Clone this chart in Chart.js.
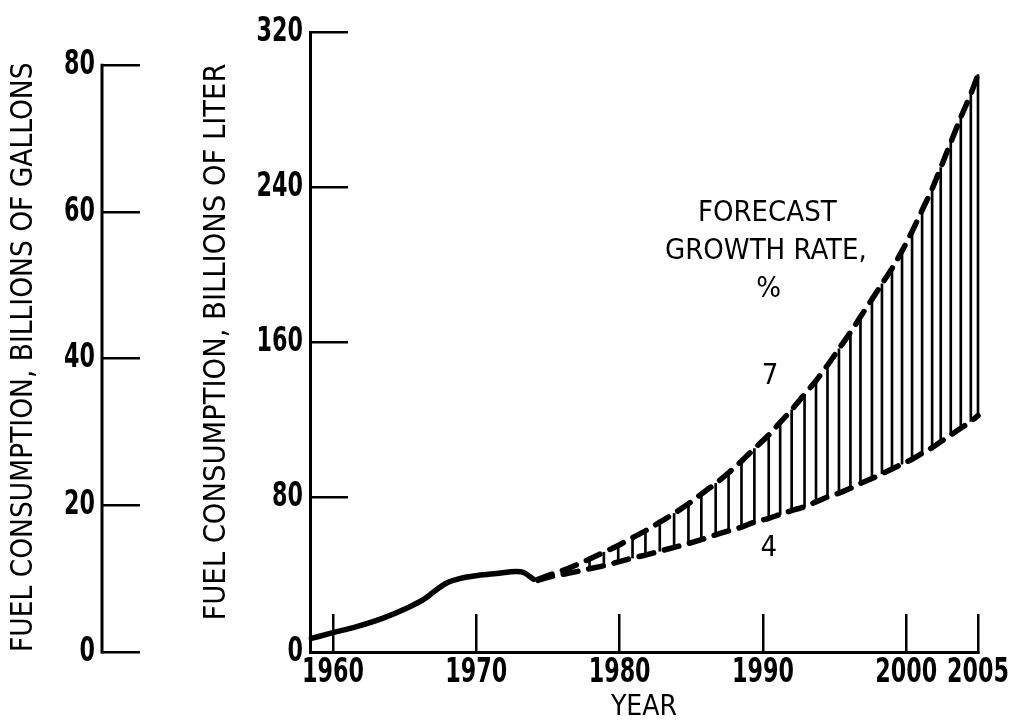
<!DOCTYPE html>
<html>
<head>
<meta charset="utf-8">
<script src="https://cdn.jsdelivr.net/npm/chart.js@4.4.1/dist/chart.umd.min.js"></script>
<style>
  html, body { margin: 0; padding: 0; background: #fff; }
  canvas { display: block; }
</style>
</head>
<body>
<canvas id="fuel" width="1012" height="726"></canvas>
<script>
// Historical fuel consumption, billions of liters
const historyYears  = [1958.5, 1960, 1961.6, 1963.5, 1965.1, 1966.3, 1967.2, 1967.9, 1968.9, 1970.1, 1971.4, 1972.8, 1973.3, 1974.0];
const historyLiters = [7, 10, 13, 17.5, 22.5, 27, 32, 35.5, 38, 39.5, 40.5, 41.5, 41, 37.5];

// Forecast band, billions of liters, sampled where the hatch lines fall
const forecastYears = [1974.3, 1975, 1976, 1977, 1977.9, 1978.9, 1979.9, 1980.9, 1981.8, 1982.8,
  1983.8, 1984.8, 1985.7, 1986.7, 1987.6, 1988.5, 1989.4, 1990.4, 1991.2, 1992.0,
  1992.9, 1993.7, 1994.5, 1995.3, 1996.1, 1996.8, 1997.6, 1998.3, 1999.0, 1999.7,
  2000.4, 2001.1, 2001.8, 2002.4, 2003.1, 2003.8, 2004.5, 2005.0];
const growth7 = [37.5, 39.5, 42, 45, 48, 51.5, 55, 59, 62.5, 67,
  71.5, 76.5, 81.5, 87, 92.5, 98.5, 105, 112, 118.5, 125,
  133, 140, 148, 156.5, 165, 173, 182, 190, 198, 207,
  217, 228, 239, 250, 263, 276, 288, 298];
const growth4 = [37, 38.5, 40, 41.5, 43, 44.5, 46.5, 48.5, 50, 52,
  54, 56, 58, 60.5, 62.5, 64.5, 67, 69, 71, 73,
  75, 77.5, 80, 82, 84.5, 87, 89.5, 92, 94.5, 97,
  99.5, 102.5, 105.5, 108.5, 112, 115.5, 119, 122];
const hatchFrom = 1977.9;   // band is hatched from here on

// Axis ticks
const yearTicks   = [1960, 1970, 1980, 1990, 2000, 2005];
const literTicks  = [0, 80, 160, 240, 320];
const gallonTicks = [0, 20, 40, 60, 80];
const LITERS_PER_GALLON = 3.785;

// Text written inside the plot
const notes = [
  { text: 'FORECAST',     year: 1990.3, liters: 226.5 },
  { text: 'GROWTH RATE,', year: 1990.2, liters: 206.5 },
  { text: '%',            year: 1990.4, liters: 187 },
  { text: '7',            year: 1990.5, liters: 142 },
  { text: '4',            year: 1990.4, liters: 53.5 }
];

const LABEL_FONT = "'DejaVu Sans Condensed', 'DejaVu Sans', sans-serif";
const TICK_FONT  = "'DejaVu Sans Condensed', 'DejaVu Sans', sans-serif";
const TICK_SQUEEZE = 0.75;   // tick numerals are set narrower than the font's natural width
const INK = '#000';
const TICK_LEN = 38;

const toXY = (xs, ys) => xs.map((x, i) => ({ x, y: ys[i] }));
const hatch = forecastYears
  .map((x, i) => ({ x, y: [growth4[i], growth7[i]] }))
  .filter(d => d.x >= hatchFrom);

// Gallon axis line stops at its last tick rather than running the full height
const gallonAxisLine = {
  id: 'gallonAxisLine',
  afterDraw(chart) {
    const s = chart.scales.yG;
    const ctx = chart.ctx;
    ctx.save();
    ctx.strokeStyle = INK;
    ctx.lineWidth = 3;
    ctx.beginPath();
    ctx.moveTo(s.right, s.getPixelForValue(gallonTicks[0]) + 1.5);
    ctx.lineTo(s.right, s.getPixelForValue(gallonTicks[gallonTicks.length - 1]) - 1.5);
    ctx.stroke();
    ctx.restore();
  }
};

// Narrow numerals: give each tick label a maxWidth so the canvas condenses it
const narrowTickLabels = {
  id: 'narrowTickLabels',
  beforeDraw(chart) {
    Object.values(chart.scales).forEach(scale => {
      if (scale.$narrowed) return;
      scale.$narrowed = true;
      const base = scale.getLabelItems.bind(scale);
      scale.getLabelItems = area => base(area).map(item => {
        const ctx = chart.ctx;
        ctx.save();
        ctx.font = item.font.string;
        const w = ctx.measureText(String(item.label)).width;
        ctx.restore();
        return { ...item, options: { ...item.options, maxWidth: w * TICK_SQUEEZE } };
      });
    });
  }
};

const plotNotes = {
  id: 'plotNotes',
  afterDatasetsDraw(chart) {
    const { ctx, scales: { x, yL } } = chart;
    ctx.save();
    ctx.fillStyle = INK;
    ctx.font = '29px ' + LABEL_FONT;
    ctx.textAlign = 'center';
    ctx.textBaseline = 'middle';
    notes.forEach(n => ctx.fillText(n.text, x.getPixelForValue(n.year), yL.getPixelForValue(n.liters)));
    ctx.restore();
  }
};

const fixTicks = values => scale => { scale.ticks = values.map(v => ({ value: v })); };
// Fixed box size; labels may overhang into the page margins
const fixSize = (w, h) => s => {
  if (w !== null) s.width = w;
  if (h !== null) s.height = h;
  s.paddingTop = s.paddingBottom = s.paddingLeft = s.paddingRight = 0;
};

const tickGrid = { drawOnChartArea: false, drawTicks: true, offset: false, tickLength: -TICK_LEN, color: INK, lineWidth: 2.5 };
const tickFont = { family: TICK_FONT, size: 33, weight: 'bold' };

const lineStyle = {
  yAxisID: 'yL',
  borderColor: INK,
  borderWidth: 5.5,
  borderCapStyle: 'round',
  pointRadius: 0,
  cubicInterpolationMode: 'monotone',
  clip: false,
  order: 1
};

new Chart(document.getElementById('fuel'), {
  type: 'line',
  data: {
    datasets: [
      { ...lineStyle, label: 'Historical', data: toXY(historyYears, historyLiters) },
      { ...lineStyle, label: '7 %', data: toXY(forecastYears, growth7), borderDash: [15, 11] },
      { ...lineStyle, label: '4 %', data: toXY(forecastYears, growth4), borderDash: [15, 11] },
      {
        type: 'bar',
        label: 'Forecast range',
        data: hatch,
        yAxisID: 'yL',
        backgroundColor: INK,
        borderWidth: 0,
        barThickness: 2,
        clip: false,
        order: 2
      }
    ]
  },
  options: {
    responsive: false,
    animation: false,
    devicePixelRatio: 1,
    layout: { padding: { top: 32, right: 34, bottom: 0, left: 0 } },
    plugins: { legend: { display: false }, tooltip: { enabled: false } },
    scales: {
      x: {
        type: 'linear',
        position: 'bottom',
        min: 1958.4,
        max: 2005,
        offset: false,
        afterBuildTicks: fixTicks(yearTicks),
        afterFit: fixSize(null, 74),
        border: { color: INK, width: 3 },
        grid: tickGrid,
        ticks: {
          autoSkip: false, maxRotation: 0, padding: TICK_LEN + 2, color: INK,
          font: tickFont,
          callback: v => String(v)
        },
        title: {
          display: true, text: 'YEAR', color: INK,
          font: { family: LABEL_FONT, size: 28 },
          padding: { top: 0, bottom: 1 }
        }
      },
      yL: {
        type: 'linear',
        position: 'left',
        weight: 0,
        min: literTicks[0],
        max: literTicks[literTicks.length - 1],
        afterBuildTicks: fixTicks(literTicks),
        afterFit: fixSize(208, null),
        border: { color: INK, width: 3 },
        grid: tickGrid,
        ticks: { padding: TICK_LEN + 7, color: INK, font: tickFont },
        title: {
          display: true, text: 'FUEL CONSUMPTION, BILLIONS OF LITER', color: INK,
          font: { family: LABEL_FONT, size: 30.5 },
          padding: { top: 97, bottom: 0 }
        }
      },
      yG: {
        type: 'linear',
        position: 'left',
        weight: 10,
        min: 0,
        max: literTicks[literTicks.length - 1] / LITERS_PER_GALLON,
        afterBuildTicks: fixTicks(gallonTicks),
        afterFit: fixSize(102, null),
        border: { display: false },
        grid: tickGrid,
        ticks: { padding: TICK_LEN + 7, color: INK, font: tickFont },
        title: {
          display: true, text: 'FUEL CONSUMPTION, BILLIONS OF GALLONS', color: INK, align: 'start',
          font: { family: LABEL_FONT, size: 29.5 },
          padding: { top: 7, bottom: 0 }
        }
      }
    }
  },
  plugins: [narrowTickLabels, gallonAxisLine, plotNotes]
});
</script>
</body>
</html>
